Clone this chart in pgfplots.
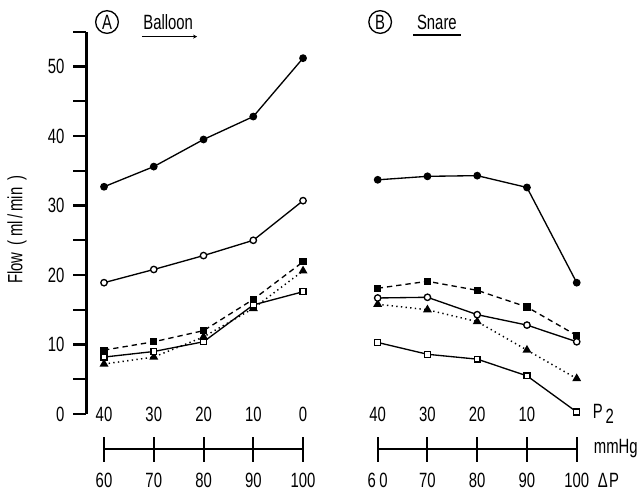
\documentclass[border=0pt]{standalone}
\usepackage{fontspec}
\setmainfont{Liberation Sans}[FakeStretch=0.72]
\usepackage{pgfplots}
\pgfplotsset{compat=1.18}
\usetikzlibrary{arrows.meta}
\begin{document}
\begin{tikzpicture}[font=\fontsize{15.5}{18}\selectfont]
\begin{axis}[
  x=37.3125pt, y=5.2125pt,
  xmin=-0.36, xmax=9.6, ymin=0, ymax=55,
  clip=false,
  axis y line=left, axis x line=bottom,
  x axis line style={draw=none},
  y axis line style={-, line width=2.2pt},
  /pgf/number format/assume math mode=true,
  ytick={0,10,...,50}, minor ytick={5,15,...,55},
  tick align=outside,
  major tick length=9.75pt, minor tick length=9.75pt,
  tick style={line width=1.6pt, black},
  major x tick style={draw=none},
  yticklabel style={xshift=-3pt},
  xtick={0,1,2,3,4,5.5,6.5,7.5,8.5,9.5},
  xticklabels={40,30,20,10,0,40,30,20,10,{}},
  xticklabel style={anchor=center, yshift=9.75pt},
  ylabel={Flow\hspace{5pt}(\hspace{3pt}ml\hspace{2pt}/\hspace{2pt}min\hspace{5pt})},
  ylabel style={at={(axis cs:-1.75,26.5)}, anchor=center},
]
% Panel A
\addplot[black, line width=1pt, mark=*, mark size=2.4pt] coordinates {(0,32.7) (1,35.6) (2,39.5) (3,42.8) (4,51.2)};
\addplot[black, line width=1pt, mark=*, mark size=2.4pt, mark options={fill=white}] coordinates {(0,18.9) (1,20.8) (2,22.8) (3,25.0) (4,30.7)};
\addplot[black, line width=1pt, dash pattern=on 4pt off 3pt, mark=square*, mark size=2.2pt, mark options={solid}] coordinates {(0,9.2) (1,10.4) (2,12.0) (3,16.5) (4,21.9)};
\addplot[black, line width=1.1pt, dash pattern=on 1pt off 2.5pt, mark=triangle*, mark size=2.8pt, mark options={solid}] coordinates {(0,7.2) (1,8.2) (2,11.1) (3,15.2) (4,20.6)};
\addplot[black, line width=1pt, mark=square*, mark size=2.2pt, mark options={fill=white}] coordinates {(0,8.2) (1,9.0) (2,10.4) (3,15.7) (4,17.6)};
% Panel B
\addplot[black, line width=1pt, mark=*, mark size=2.4pt] coordinates {(5.5,33.7) (6.5,34.2) (7.5,34.3) (8.5,32.6) (9.5,18.9)};
\addplot[black, line width=1pt, dash pattern=on 4pt off 3pt, mark=square*, mark size=2.2pt, mark options={solid}] coordinates {(5.5,18.1) (6.5,19.1) (7.5,17.8) (8.5,15.4) (9.5,11.3)};
\addplot[black, line width=1.1pt, dash pattern=on 1pt off 2.5pt, mark=triangle*, mark size=2.8pt, mark options={solid}] coordinates {(5.5,15.8) (6.5,15.0) (7.5,13.3) (8.5,9.2) (9.5,5.1)};
\addplot[black, line width=1pt, mark=*, mark size=2.4pt, mark options={fill=white}] coordinates {(5.5,16.7) (6.5,16.8) (7.5,14.3) (8.5,12.8) (9.5,10.4)};
\addplot[black, line width=1pt, mark=square*, mark size=2.2pt, mark options={fill=white}] coordinates {(5.5,10.3) (6.5,8.6) (7.5,7.9) (8.5,5.5) (9.5,0.3)};
% scale bars
\draw[line width=1.8pt] (axis cs:0,-5) -- (axis cs:4,-5);
\draw[line width=1.8pt] (axis cs:5.5,-5) -- (axis cs:9.5,-5);
\draw[line width=1.5pt] (axis cs:0,-3.3) -- (axis cs:0,-6.9);
\draw[line width=1.5pt] (axis cs:1,-3.3) -- (axis cs:1,-6.9);
\draw[line width=1.5pt] (axis cs:2,-3.3) -- (axis cs:2,-6.9);
\draw[line width=1.5pt] (axis cs:3,-3.3) -- (axis cs:3,-6.9);
\draw[line width=1.5pt] (axis cs:4,-3.3) -- (axis cs:4,-6.9);
\draw[line width=1.5pt] (axis cs:5.5,-3.3) -- (axis cs:5.5,-6.9);
\draw[line width=1.5pt] (axis cs:6.5,-3.3) -- (axis cs:6.5,-6.9);
\draw[line width=1.5pt] (axis cs:7.5,-3.3) -- (axis cs:7.5,-6.9);
\draw[line width=1.5pt] (axis cs:8.5,-3.3) -- (axis cs:8.5,-6.9);
\draw[line width=1.5pt] (axis cs:9.5,-3.3) -- (axis cs:9.5,-6.9);
\node[inner sep=0pt] at (axis cs:0,-9.5) {60};
\node[inner sep=0pt] at (axis cs:1,-9.5) {70};
\node[inner sep=0pt] at (axis cs:2,-9.5) {80};
\node[inner sep=0pt] at (axis cs:3,-9.5) {90};
\node[inner sep=0pt] at (axis cs:4,-9.5) {100};
\node[inner sep=0pt] at (axis cs:5.5,-9.5) {6\,0};
\node[inner sep=0pt] at (axis cs:6.5,-9.5) {70};
\node[inner sep=0pt] at (axis cs:7.5,-9.5) {80};
\node[inner sep=0pt] at (axis cs:8.5,-9.5) {90};
\node[inner sep=0pt] at (axis cs:9.5,-9.5) {100};
\node[anchor=west, inner sep=0pt] at (axis cs:9.82,0) {P\hspace{2pt}\raisebox{-4pt}{2}};
\node[anchor=west, inner sep=0pt] at (axis cs:9.84,-5.0) {mmHg};
\node[anchor=west, inner sep=0pt] at (axis cs:9.92,-9.5) {Δ\hspace{1pt}P};
% titles
\node[draw, circle, line width=1pt, inner sep=1pt, minimum size=17pt] at (axis cs:0.06,56.4) {A};
\node at (axis cs:1.29,56.4) {Balloon};
\draw[line width=1pt, -{Stealth[length=3pt,width=3pt]}] (axis cs:0.76,54.3) -- (axis cs:1.87,54.3);
\node[draw, circle, line width=1pt, inner sep=1pt, minimum size=17pt] at (axis cs:5.55,56.4) {B};
\node at (axis cs:6.69,56.3) {Snare};
\draw[line width=1.2pt] (axis cs:6.21,54.5) -- (axis cs:7.18,54.5);
\coordinate (bl) at (axis cs:-2.0905,-11.223);
\coordinate (tr) at (axis cs:10.8322,59.568);
\end{axis}
\pgfresetboundingbox
\path (bl) rectangle (tr);
\end{tikzpicture}
\end{document}
